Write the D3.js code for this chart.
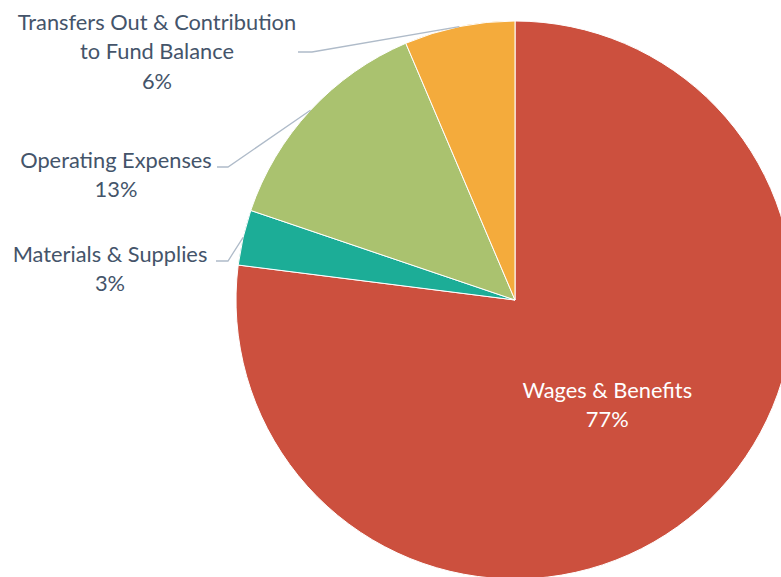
<!DOCTYPE html>
<html>
<head>
<meta charset="utf-8">
<script src="https://cdn.jsdelivr.net/npm/d3@7"></script>
<style>
  html, body { margin: 0; padding: 0; background: #fff; }
  svg { display: block; }
  text { font-family: "Lato", "Open Sans", sans-serif; }
</style>
</head>
<body>
<div id="chart"></div>
<script>
// Expenditure shares by category, drawn clockwise from 12 o'clock
const categories = ["Wages & Benefits", "Materials & Supplies", "Operating Expenses", "Transfers Out & Contribution to Fund Balance"];
const shares = [77.0, 3.2, 13.4, 6.4];
const labelLines = [["Wages & Benefits"], ["Materials & Supplies"], ["Operating Expenses"], ["Transfers Out & Contribution", "to Fund Balance"]];
const sliceColors = ["#CC503E", "#1CAD97", "#AAC26F", "#F4AB3C"];

const width = 781, height = 577;
const cx = 515, cy = 300, radius = 279;
const fontSize = 21.8, lineHeight = 29.5;
const textColor = "#44546A";

// Placement of the outside labels: text block centre x, first line y, and the leader elbow
const outsideLayout = {
  1: { x: 110, y: 254, elbow: [228, 261], start: [216, 261] },
  2: { x: 116, y: 160, elbow: [228, 167], start: [217, 167] },
  3: { x: 157, y: 22, elbow: [312, 52], start: [298, 52] }
};

const data = categories.map((c, i) => ({ name: c, value: shares[i], lines: labelLines[i], color: sliceColors[i], i }));

const svg = d3.select("#chart").append("svg")
  .attr("width", width).attr("height", height);

const pie = d3.pie().sort(null).value(d => d.value);
const arc = d3.arc().innerRadius(0).outerRadius(radius);
const arcs = pie(data);

const g = svg.append("g").attr("transform", `translate(${cx},${cy})`);

g.selectAll("path.slice").data(arcs).join("path")
  .attr("class", "slice")
  .attr("d", arc)
  .attr("fill", d => d.data.color)
  .attr("stroke", "#ffffff")
  .attr("stroke-width", 1);

const pct = d => d3.format(".0f")(d.data.value) + "%";

// Inside label for the large slice
const inner = d3.arc().innerRadius(radius * 0.5).outerRadius(radius * 0.5);
arcs.filter(d => !outsideLayout[d.data.i]).forEach(d => {
  const [x, y] = inner.centroid(d);
  const lines = d.data.lines.concat([pct(d)]);
  const t = g.append("text")
    .attr("text-anchor", "middle")
    .attr("fill", "#ffffff")
    .attr("font-size", fontSize);
  const n = lines.length;
  lines.forEach((s, k) => {
    t.append("tspan")
      .attr("x", x)
      .attr("y", y + (k - (n - 1) / 2) * lineHeight)
      .attr("dy", "0.35em")
      .text(s);
  });
});

// Outside labels with leader lines
const edge = d3.arc().innerRadius(radius).outerRadius(radius);
arcs.filter(d => outsideLayout[d.data.i]).forEach(d => {
  const L = outsideLayout[d.data.i];
  const [ex, ey] = edge.centroid(d);
  svg.append("polyline")
    .attr("points", [L.start, L.elbow, [cx + ex, cy + ey]].map(p => p.join(",")).join(" "))
    .attr("fill", "none")
    .attr("stroke", "#AFBBC9")
    .attr("stroke-width", 1.3);

  const lines = d.data.lines.concat([pct(d)]);
  const t = svg.append("text")
    .attr("text-anchor", "middle")
    .attr("fill", textColor)
    .attr("font-size", fontSize);
  lines.forEach((s, k) => {
    t.append("tspan")
      .attr("x", L.x)
      .attr("y", L.y + k * lineHeight)
      .attr("dy", "0.35em")
      .text(s);
  });
});
</script>
</body>
</html>
